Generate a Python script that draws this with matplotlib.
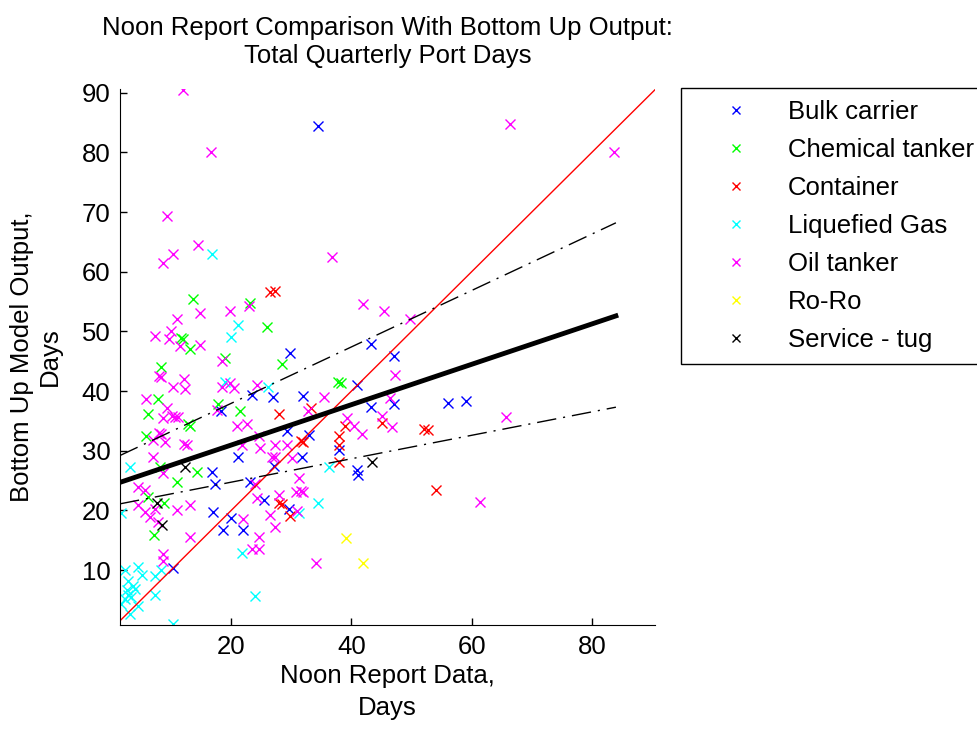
import matplotlib
matplotlib.use("Agg")
import matplotlib.pyplot as plt

plt.rcParams['font.family'] = ['Liberation Sans', 'DejaVu Sans']

# data (noon report days vs bottom-up model days)
bulk_x = [34.4, 43.3, 29.7, 47.1, 40.9, 26.9, 32.0, 47.1, 56.1, 59.0, 43.2, 29.3, 32.9, 37.9, 31.8, 40.9,
          41.1, 29.6, 23.5, 18.3, 21.1, 16.8, 17.3, 23.2, 27.2, 10.4, 17.05, 20.0, 18.7, 21.9, 25.4]
bulk_y = [84.4, 47.9, 46.4, 45.8, 41.0, 39.0, 39.1, 37.8, 38.0, 38.3, 37.3, 33.3, 32.7, 30.2, 29.0, 26.8,
          26.0, 20.3, 39.3, 36.6, 28.9, 26.5, 24.4, 24.7, 27.5, 10.3, 19.8, 18.8, 16.7, 16.7, 21.7]

chem_x = [13.7, 23.2, 26.0, 11.7, 12.0, 13.2, 18.9, 28.4, 8.4, 37.8, 38.2, 17.8, 7.8, 6.1, 21.5, 12.8,
          13.1, 5.9, 8.2, 14.3, 10.9, 6.1, 8.9, 7.2]
chem_y = [55.4, 54.8, 50.8, 48.9, 48.7, 47.0, 45.5, 44.6, 44.0, 41.6, 41.4, 37.8, 38.7, 36.1, 36.6, 34.5,
          34.2, 32.4, 27.3, 26.4, 24.8, 22.3, 21.3, 15.9]

cont_x = [26.5, 27.3, 33.2, 27.9, 45.1, 39.0, 52.0, 52.8, 31.6, 32.0, 37.9, 37.9, 37.9, 28.0, 28.4, 29.8, 54.1]
cont_y = [56.6, 56.7, 37.2, 36.1, 34.6, 34.1, 33.6, 33.5, 31.6, 31.4, 32.4, 31.0, 28.1, 21.3, 21.1, 19.1, 23.4]

gas_x = [16.8, 21.1, 20.0, 19.0, 26.2, 36.2, 34.4, 31.2, 21.8, 23.9, 10.4, 1.7, 3.2, 2.3, 4.55, 5.1,
         2.9, 7.3, 8.4, 3.7, 2.6, 4.0, 2.9, 3.4, 1.7, 4.55, 3.2, 7.4, 2.3]
gas_y = [63.0, 51.1, 49.1, 41.5, 40.6, 27.3, 21.3, 19.5, 12.9, 5.6, 1.0, 19.6, 27.3, 9.95, 10.5, 9.2,
         8.1, 9.0, 9.95, 7.4, 6.6, 6.85, 5.85, 5.45, 4.3, 4.05, 2.6, 5.85, 5.2]

oil_x = [12.05, 16.7, 9.3, 14.4, 10.4, 36.8, 66.4, 83.7, 8.7, 42.0, 45.4, 49.8, 14.8, 19.8, 22.9, 10.9,
         7.3, 10.0, 9.7, 11.5, 14.8, 18.4, 47.3, 8.0, 8.4, 12.1, 18.4, 19.8, 20.4, 10.4, 12.3, 24.3,
         5.9, 9.3, 10.1, 10.7, 11.2, 8.7, 17.6, 35.4, 46.5, 32.8, 39.3, 45.1, 40.4, 46.8, 41.7, 20.9,
         22.6, 8.0, 8.4, 7.05, 9.0, 12.2, 12.6, 24.6, 21.8, 27.3, 29.3, 27.3, 30.1, 7.05, 24.8, 26.8,
         8.7, 4.55, 24.0, 5.7, 4.55, 7.3, 10.9, 13.2, 5.7, 6.5, 7.9, 13.2, 8.7, 8.7, 21.9, 24.3,
         26.5, 24.55, 23.4, 24.55, 31.2, 27.9, 31.6, 32.0, 30.7, 30.9, 27.3, 34.1, 65.8, 61.4]
oil_y = [90.5, 80.0, 69.3, 64.5, 63.0, 62.5, 84.7, 80.1, 61.4, 54.6, 53.4, 52.0, 53.1, 53.4, 54.3, 52.0,
         49.2, 50.1, 48.7, 47.5, 47.7, 45.0, 42.7, 42.6, 42.3, 42.1, 40.6, 41.4, 40.5, 40.6, 40.4, 41.1,
         38.7, 37.2, 35.8, 35.6, 35.6, 35.5, 36.9, 39.0, 38.8, 36.6, 35.5, 35.8, 34.1, 33.9, 32.8, 34.1,
         34.4, 33.0, 32.8, 31.8, 31.4, 31.1, 30.9, 32.4, 31.0, 31.0, 31.0, 29.0, 28.7, 29.0, 30.4, 29.0,
         26.2, 24.0, 24.5, 23.4, 20.9, 20.3, 20.0, 20.9, 19.8, 18.9, 18.1, 15.6, 12.7, 11.6, 18.6, 22.0,
         19.2, 15.6, 13.6, 13.6, 25.5, 22.6, 23.3, 23.1, 23.1, 19.9, 17.2, 11.2, 35.6, 21.4]

roro_x = [39.1, 42.0]
roro_y = [15.3, 11.2]

tug_x = [12.3, 7.6, 8.55, 43.4]
tug_y = [27.2, 21.3, 17.5, 28.1]

# fitted line and bounds (end points)
fit_x = [1.5, 84.0]
fit_y = [24.7, 52.6]
upper_y = [29.2, 68.2]
lower_y = [21.1, 37.3]
ref_xy = [0.8, 90.6]

groups = [
    ('Bulk carrier', bulk_x, bulk_y, '#0000ff'),
    ('Chemical tanker', chem_x, chem_y, '#00ff00'),
    ('Container', cont_x, cont_y, '#ff0000'),
    ('Liquefied Gas', gas_x, gas_y, '#00ffff'),
    ('Oil tanker', oil_x, oil_y, '#ff00ff'),
    ('Ro-Ro', roro_x, roro_y, '#ffff00'),
    ('Service - tug', tug_x, tug_y, '#000000'),
]

fs = 18.5

fig = plt.figure(figsize=(9.78, 7.29), dpi=100)
ax = fig.add_axes([0.1227, 0.1427, 0.547, 0.735])

handles = []
for name, xs, ys, col in groups:
    h, = ax.plot(xs, ys, linestyle='none', marker='x', color=col, markersize=7, mew=1.0, label=name)
    handles.append(h)

ax.plot(ref_xy, ref_xy, color='#ff0000', lw=1.0)
ax.plot(fit_x, fit_y, color='black', lw=3.5)
ax.plot(fit_x, upper_y, color='black', lw=1.0, dashes=(14, 5, 1.5, 5))
ax.plot(fit_x, lower_y, color='black', lw=1.0, dashes=(14, 5, 1.5, 5))

ax.set_xlim(1.5, 90.5)
ax.set_ylim(0.8, 90.6)
ax.set_xticks([20, 40, 60, 80])
ax.set_yticks([10, 20, 30, 40, 50, 60, 70, 80, 90])
ax.spines['top'].set_visible(False)
ax.spines['right'].set_visible(False)
ax.tick_params(direction='in', length=5, labelsize=fs, width=1, pad=7)

ax.set_title('Noon Report Comparison With Bottom Up Output:\nTotal Quarterly Port Days',
             fontsize=fs, pad=19, linespacing=1.2)
ax.set_xlabel('Noon Report Data,\nDays', fontsize=fs, labelpad=4, linespacing=1.4)
ax.set_ylabel('Bottom Up Model Output,\nDays', fontsize=fs, labelpad=14, linespacing=1.2)

leg = fig.legend(handles, [g[0] for g in groups], loc='upper left',
                 bbox_to_anchor=(681 / 978, 1 - 88 / 729), fontsize=fs, frameon=True,
                 fancybox=False, edgecolor='black', framealpha=1, borderaxespad=0,
                 markerscale=0.75, handlelength=3.4, handletextpad=0.3, labelspacing=0.55,
                 borderpad=0.45)
leg.get_frame().set_linewidth(1.0)

fig.savefig('out.png', dpi=100)
